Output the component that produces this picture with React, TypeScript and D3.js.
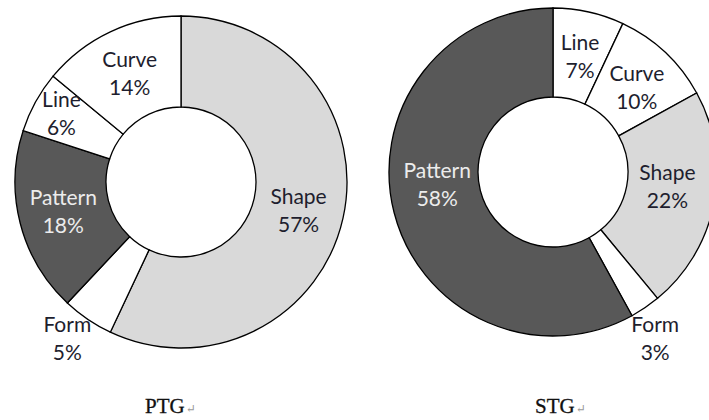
import * as d3 from "d3";

// PTG slices, clockwise from 12 o'clock
const ptgCategories = ["Shape", "Form", "Pattern", "Line", "Curve"];
const ptgValues = [57, 5, 18, 6, 14];

// STG slices, clockwise from 12 o'clock
const stgCategories = ["Line", "Curve", "Shape", "Form", "Pattern"];
const stgValues = [7, 10, 22, 3, 58];

const titles = ["PTG", "STG"];

const fills: Record<string, string> = {
  Shape: "#d9d9d9",
  Pattern: "#585858",
  Form: "#ffffff",
  Line: "#ffffff",
  Curve: "#ffffff",
};

// label nudges (Excel moves small-slice labels out of the ring)
const ptgNudge: Record<string, [number, number]> = {
  Shape: [0, 3],
  Form: [-46, 57],
  Pattern: [-1, 0],
  Line: [-14, -10],
  Curve: [0, 1],
};
const stgNudge: Record<string, [number, number]> = {
  Line: [1, 2],
  Curve: [2, 3],
  Shape: [-3, -7],
  Form: [35, 68],
  Pattern: [0, -17],
};

type DonutProps = {
  cats: string[];
  vals: number[];
  cx: number;
  cy: number;
  outer: number;
  inner: number;
  nudge: Record<string, [number, number]>;
};

function Donut({ cats, vals, cx, cy, outer, inner, nudge }: DonutProps) {
  const data = cats.map((c, i) => ({ cat: c, val: vals[i] }));
  const pie = d3
    .pie<{ cat: string; val: number }>()
    .sort(null)
    .value((d) => d.val);
  const arcs = pie(data);
  const arc = d3
    .arc<d3.PieArcDatum<{ cat: string; val: number }>>()
    .innerRadius(inner)
    .outerRadius(outer);
  const mid = (inner + outer) / 2;
  const labelArc = d3
    .arc<d3.PieArcDatum<{ cat: string; val: number }>>()
    .innerRadius(mid)
    .outerRadius(mid);

  return (
    <g transform={`translate(${cx},${cy})`}>
      {arcs.map((a) => (
        <path
          key={a.data.cat}
          d={arc(a) ?? ""}
          fill={fills[a.data.cat]}
          stroke="#000"
          strokeWidth={1.3}
        />
      ))}
      {arcs.map((a) => {
        const [x, y] = labelArc.centroid(a);
        const [dx, dy] = nudge[a.data.cat] ?? [0, 0];
        const light = a.data.cat === "Pattern";
        return (
          <text
            key={a.data.cat + "-lbl"}
            x={x + dx}
            y={y + dy}
            textAnchor="middle"
            fontFamily="Lato, 'Open Sans', sans-serif"
            fontSize={21}
            fill={light ? "#ececec" : "#1e1e2e"}
          >
            <tspan x={x + dx} dy={-7}>
              {a.data.cat}
            </tspan>
            <tspan x={x + dx} dy={28}>
              {a.data.val}%
            </tspan>
          </text>
        );
      })}
    </g>
  );
}

export default function App() {
  return (
    <svg
      width={709}
      height={420}
      style={{ position: "absolute", left: 0, top: 0, background: "#fff" }}
    >
      <rect width={709} height={420} fill="#fff" />
      <Donut
        cats={ptgCategories}
        vals={ptgValues}
        cx={181}
        cy={182}
        outer={166}
        inner={75}
        nudge={ptgNudge}
      />
      <Donut
        cats={stgCategories}
        vals={stgValues}
        cx={553}
        cy={172}
        outer={164}
        inner={75}
        nudge={stgNudge}
      />
      {titles.map((t, i) => (
        <text
          key={t}
          x={i === 0 ? 145 : 535}
          y={413}
          fontFamily="'Liberation Serif', 'DejaVu Serif', serif"
          fontSize={21}
          fill="#111"
          stroke="#111"
          strokeWidth={0.3}
        >
          {t}
          <tspan fontSize={12} fill="#999" stroke="none" dx={1}>
            ↵
          </tspan>
        </text>
      ))}
    </svg>
  );
}
